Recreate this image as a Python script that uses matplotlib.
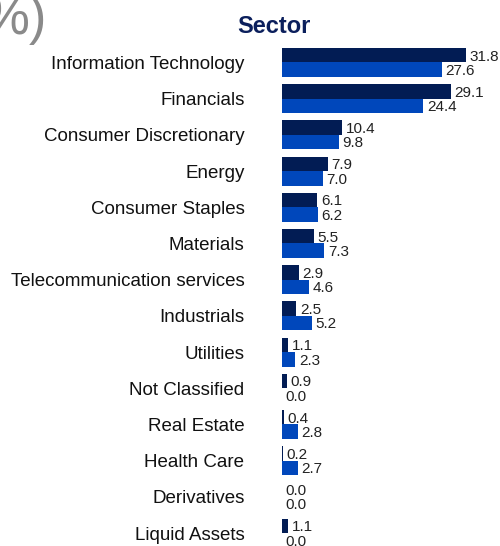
import matplotlib.pyplot as plt
import numpy as np

plt.rcParams['font.family'] = ['Liberation Sans', 'DejaVu Sans']

sectors = ['Information Technology', 'Financials', 'Consumer Discretionary', 'Energy',
           'Consumer Staples', 'Materials', 'Telecommunication services', 'Industrials',
           'Utilities', 'Not Classified', 'Real Estate', 'Health Care', 'Derivatives',
           'Liquid Assets']
fund = [31.8, 29.1, 10.4, 7.9, 6.1, 5.5, 2.9, 2.5, 1.1, 0.9, 0.4, 0.2, 0.0, 1.1]
index = [27.6, 24.4, 9.8, 7.0, 6.2, 7.3, 4.6, 5.2, 2.3, 0.0, 2.8, 2.7, 0.0, 0.0]

dark = '#021c54'
blue = '#0047bb'

fig = plt.figure(figsize=(5, 5.46), dpi=100)
ax = fig.add_axes([0.564, -0.016, 0.436, 0.9414])

y = np.arange(len(sectors))
h = 0.4
ax.barh(y - h / 2, fund, height=h, color=dark)
ax.barh(y + h / 2, index, height=h, color=blue)

for i in range(len(sectors)):
    ax.annotate('%.1f' % fund[i], (fund[i], y[i] - h / 2), xytext=(2.5, -1),
                textcoords='offset points', va='center', ha='left', fontsize=11, color='#222222')
    ax.annotate('%.1f' % index[i], (index[i], y[i] + h / 2), xytext=(2.5, -1),
                textcoords='offset points', va='center', ha='left', fontsize=11, color='#222222')

ax.set_xlim(0, 37.6)
ax.set_ylim(13.6, -0.6)
ax.set_yticks(y)
ax.set_yticklabels(sectors, fontsize=13.5, color='#111111')
ax.tick_params(axis='y', length=0, pad=27)
ax.set_xticks([])
for s in ax.spines.values():
    s.set_visible(False)

fig.text(0.548, 0.952, 'Sector', ha='center', va='center', fontsize=17,
         fontweight='bold', color='#0b1f5c')
fig.text(-0.035, 0.963, '%)', ha='left', va='center', fontsize=38, color='#8a8a8a')

plt.savefig('out.png')
